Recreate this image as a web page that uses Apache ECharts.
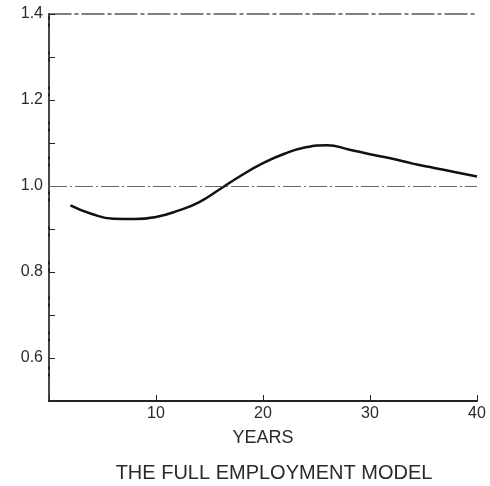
<!DOCTYPE html>
<html><head><meta charset="utf-8">
<script src="https://cdn.jsdelivr.net/npm/echarts@6/dist/echarts.min.js"></script>
<style>html,body{margin:0;padding:0;background:#fff}#c{width:490px;height:486px}</style>
</head><body><div id="c"></div>
<script>
const years = [2,4,6,8,10,12,14,16,18,20,22,24,26,28,30,32,34,36,38,40];
const values = [0.955,0.935,0.924,0.923,0.928,0.942,0.962,0.993,1.025,1.053,1.075,1.09,1.095,1.085,1.074,1.064,1.052,1.042,1.032,1.022];
const xTicks = [10,20,30,40];
const yLabels = [0.6,0.8,1.0,1.2,1.4];
const refLevel = 1.0;
const xTitle = 'YEARS';
const caption = 'THE FULL EMPLOYMENT MODEL';

const font = 'Liberation Sans';
const chart = echarts.init(document.getElementById('c'));
chart.setOption({
  animation:false,
  backgroundColor:'#fff',
  title:{text:caption,left:274,top:463,textAlign:'center',padding:0,
    textStyle:{fontFamily:font,fontSize:20,fontWeight:'normal',color:'#2a2a2a'}},
  grid:{left:49,right:13,top:14,bottom:85},
  xAxis:[{type:'value',min:0,max:40,interval:10,
    name:xTitle,nameLocation:'middle',nameGap:28,
    nameTextStyle:{fontFamily:font,fontSize:18,color:'#2a2a2a'},
    axisLine:{lineStyle:{color:'#222',width:2}},
    axisTick:{inside:true,length:6,lineStyle:{color:'#222',width:1}},
    axisLabel:{fontFamily:font,fontSize:16,color:'#2a2a2a',margin:5,
      formatter:v=>xTicks.indexOf(Math.round(v))>=0?String(Math.round(v)):''},
    splitLine:{show:false}},
    {type:'value',position:'top',min:0,max:40,
    axisLine:{show:true,lineStyle:{color:'#555',width:1.5,type:[22,4,3,4]}},
    axisTick:{show:false},axisLabel:{show:false},splitLine:{show:false}}],
  yAxis:[{type:'value',min:0.5,max:1.4,interval:0.1,
    axisLine:{show:true,lineStyle:{color:'#222',width:2}},
    axisTick:{show:true,inside:true,length:6,lineStyle:{color:'#222',width:1}},
    axisLabel:{fontFamily:font,fontSize:16,color:'#2a2a2a',margin:6,
      formatter:v=>{const k=Math.round(v*10);return (k%2===0&&k>5)?yLabels.find(y=>Math.round(y*10)===k).toFixed(1):'';}},
    splitLine:{show:false}},
    {type:'value',position:'right',min:0.5,max:1.4,
    axisLine:{show:true,lineStyle:{color:'#555',width:1.5,type:[24,4,3,4]}},
    axisTick:{show:false},axisLabel:{show:false},splitLine:{show:false}}],
  series:[{type:'line',data:years.map((y,i)=>[y,values[i]]),smooth:0.5,symbol:'none',
    lineStyle:{color:'#111',width:2.5},
    markLine:{silent:true,symbol:'none',label:{show:false},
      lineStyle:{color:'#666',width:1,type:[18,3,2,3]},
      data:[{yAxis:refLevel}]}}]
});
</script></body></html>
